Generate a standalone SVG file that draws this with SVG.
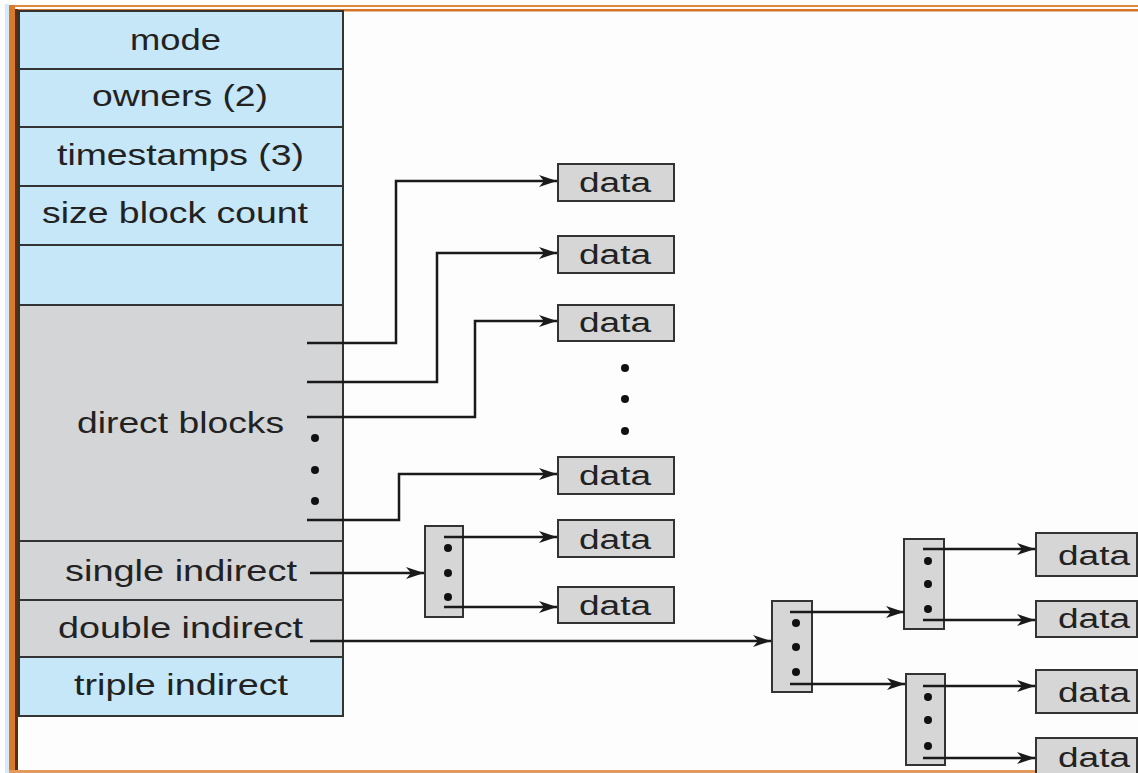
<svg xmlns="http://www.w3.org/2000/svg" width="1138" height="773" viewBox="0 0 1138 773">
  <defs>
    <marker id="arr" markerUnits="userSpaceOnUse" markerWidth="19" markerHeight="13" refX="18" refY="6.5" orient="auto">
      <path d="M0,0.5 L18,6.5 L0,12.5 L5,6.5 z" fill="#1a1a1a"/>
    </marker>
  </defs>
  <style>
    .blue { fill: #c6e7f8; stroke: #333; stroke-width: 2; }
    .gray { fill: #d4d5d7; stroke: #333; stroke-width: 2; }
    .box { fill: #d6d6d6; stroke: #333; stroke-width: 2; }
    .t { font-family: "Liberation Sans", Arial, sans-serif; font-size: 29px; fill: #222; }
    .d { font-family: "Liberation Sans", Arial, sans-serif; font-size: 27px; fill: #222; }
    .ca { fill: none; stroke: #1a1a1a; stroke-width: 2.5; marker-end: url(#arr); }
    .dot { fill: #111; }
  </style>
  <rect x="0" y="0" width="1138" height="773" fill="#fdfdfd"/>
  <!-- frame -->
  <g id="frame">
    <rect x="5" y="4" width="4" height="769" fill="#d6e9f6"/>
    <rect x="9" y="5" width="1129" height="2" fill="#e08a3c"/>
    <rect x="9" y="9" width="1129" height="2.5" fill="#d67526"/>
    <rect x="9" y="5" width="6" height="768" fill="#d97a2b"/>
    <rect x="15" y="9" width="3" height="764" fill="#5a2e10"/>
    <rect x="9" y="770" width="1129" height="3" fill="#e39a5c"/>
  </g>

  <!-- inode table -->
  <g id="inode">
    <g id="row-mode"><rect class="blue" x="19" y="11" width="324" height="58"/><text class="t" x="130" y="50" textLength="91" lengthAdjust="spacingAndGlyphs">mode</text></g>
    <g id="row-owners"><rect class="blue" x="19" y="69" width="324" height="58"/><text class="t" x="92" y="106" textLength="176" lengthAdjust="spacingAndGlyphs">owners (2)</text></g>
    <g id="row-timestamps"><rect class="blue" x="19" y="127" width="324" height="59"/><text class="t" x="57" y="165" textLength="247" lengthAdjust="spacingAndGlyphs">timestamps (3)</text></g>
    <g id="row-size"><rect class="blue" x="19" y="186" width="324" height="59"/><text class="t" x="42" y="223" textLength="266" lengthAdjust="spacingAndGlyphs">size block count</text></g>
    <g id="row-blank"><rect class="blue" x="19" y="245" width="324" height="60"/></g>
    <g id="row-direct"><rect class="gray" x="19" y="305" width="324" height="236"/><text class="t" x="77" y="433" textLength="207" lengthAdjust="spacingAndGlyphs">direct blocks</text>
      <circle class="dot" cx="315" cy="438" r="4"/><circle class="dot" cx="315" cy="470" r="4"/><circle class="dot" cx="315" cy="501" r="4"/></g>
    <g id="row-single"><rect class="gray" x="19" y="541" width="324" height="59"/><text class="t" x="65" y="581" textLength="232" lengthAdjust="spacingAndGlyphs">single indirect</text></g>
    <g id="row-double"><rect class="gray" x="19" y="600" width="324" height="57"/><text class="t" x="58" y="638" textLength="245" lengthAdjust="spacingAndGlyphs">double indirect</text></g>
    <g id="row-triple"><rect class="blue" x="19" y="657" width="324" height="59"/><text class="t" x="74" y="695" textLength="214" lengthAdjust="spacingAndGlyphs">triple indirect</text></g>
  </g>

  <!-- data column 1 -->
  <g id="data1"><rect class="box" x="558" y="164" width="116" height="37"/><text class="d" x="579" y="192" textLength="72" lengthAdjust="spacingAndGlyphs">data</text></g>
  <g id="data2"><rect class="box" x="558" y="236" width="116" height="37"/><text class="d" x="579" y="264" textLength="72" lengthAdjust="spacingAndGlyphs">data</text></g>
  <g id="data3"><rect class="box" x="558" y="305" width="116" height="36"/><text class="d" x="579" y="332" textLength="72" lengthAdjust="spacingAndGlyphs">data</text></g>
  <g id="data-dots"><circle class="dot" cx="625" cy="368" r="4"/><circle class="dot" cx="625" cy="399" r="4"/><circle class="dot" cx="625" cy="431" r="4"/></g>
  <g id="data4"><rect class="box" x="558" y="457" width="116" height="37"/><text class="d" x="579" y="485" textLength="72" lengthAdjust="spacingAndGlyphs">data</text></g>
  <g id="data5"><rect class="box" x="558" y="520" width="116" height="37"/><text class="d" x="579" y="549" textLength="72" lengthAdjust="spacingAndGlyphs">data</text></g>
  <g id="data6"><rect class="box" x="558" y="587" width="116" height="36"/><text class="d" x="579" y="615" textLength="72" lengthAdjust="spacingAndGlyphs">data</text></g>

  <!-- indirect blocks -->
  <g id="ind-single"><rect class="box" x="425" y="526" width="38" height="91"/>
    <circle class="dot" cx="448" cy="548" r="4"/><circle class="dot" cx="448" cy="573" r="4"/><circle class="dot" cx="448" cy="597" r="4"/></g>
  <g id="ind-double"><rect class="box" x="772" y="601" width="40" height="91"/>
    <circle class="dot" cx="796" cy="623" r="4"/><circle class="dot" cx="796" cy="647" r="4"/><circle class="dot" cx="796" cy="672" r="4"/></g>
  <g id="ind-double-a"><rect class="box" x="904" y="539" width="40" height="90"/>
    <circle class="dot" cx="928" cy="561" r="4"/><circle class="dot" cx="928" cy="584" r="4"/><circle class="dot" cx="928" cy="609" r="4"/></g>
  <g id="ind-double-b"><rect class="box" x="906" y="674" width="39" height="91"/>
    <circle class="dot" cx="928" cy="697" r="4"/><circle class="dot" cx="928" cy="720" r="4"/><circle class="dot" cx="928" cy="746" r="4"/></g>

  <!-- data column 2 -->
  <g id="data7"><rect class="box" x="1036" y="533" width="101" height="43"/><text class="d" x="1058" y="565" textLength="72" lengthAdjust="spacingAndGlyphs">data</text></g>
  <g id="data8"><rect class="box" x="1036" y="601" width="101" height="36"/><text class="d" x="1058" y="628" textLength="72" lengthAdjust="spacingAndGlyphs">data</text></g>
  <g id="data9"><rect class="box" x="1036" y="670" width="101" height="43"/><text class="d" x="1058" y="702" textLength="72" lengthAdjust="spacingAndGlyphs">data</text></g>
  <g id="data10"><rect class="box" x="1036" y="738" width="101" height="40"/><text class="d" x="1058" y="767" textLength="72" lengthAdjust="spacingAndGlyphs">data</text></g>

  <!-- connectors -->
  <g id="connectors">
    <polyline class="ca" points="307,343 396,343 396,181 557,181"/>
    <polyline class="ca" points="307,382 437,382 437,253 557,253"/>
    <polyline class="ca" points="307,417 475,417 475,321 557,321"/>
    <polyline class="ca" points="307,520 399,520 399,474 557,474"/>
    <polyline class="ca" points="310,573 424,573"/>
    <polyline class="ca" points="444,537 557,537"/>
    <polyline class="ca" points="444,607 557,607"/>
    <polyline class="ca" points="310,641 771,641"/>
    <polyline class="ca" points="790,612 904,612"/>
    <polyline class="ca" points="790,684 905,684"/>
    <polyline class="ca" points="923,549 1035,549"/>
    <polyline class="ca" points="923,620 1035,620"/>
    <polyline class="ca" points="923,686 1035,686"/>
    <polyline class="ca" points="923,758 1035,758"/>
  </g>
</svg>
